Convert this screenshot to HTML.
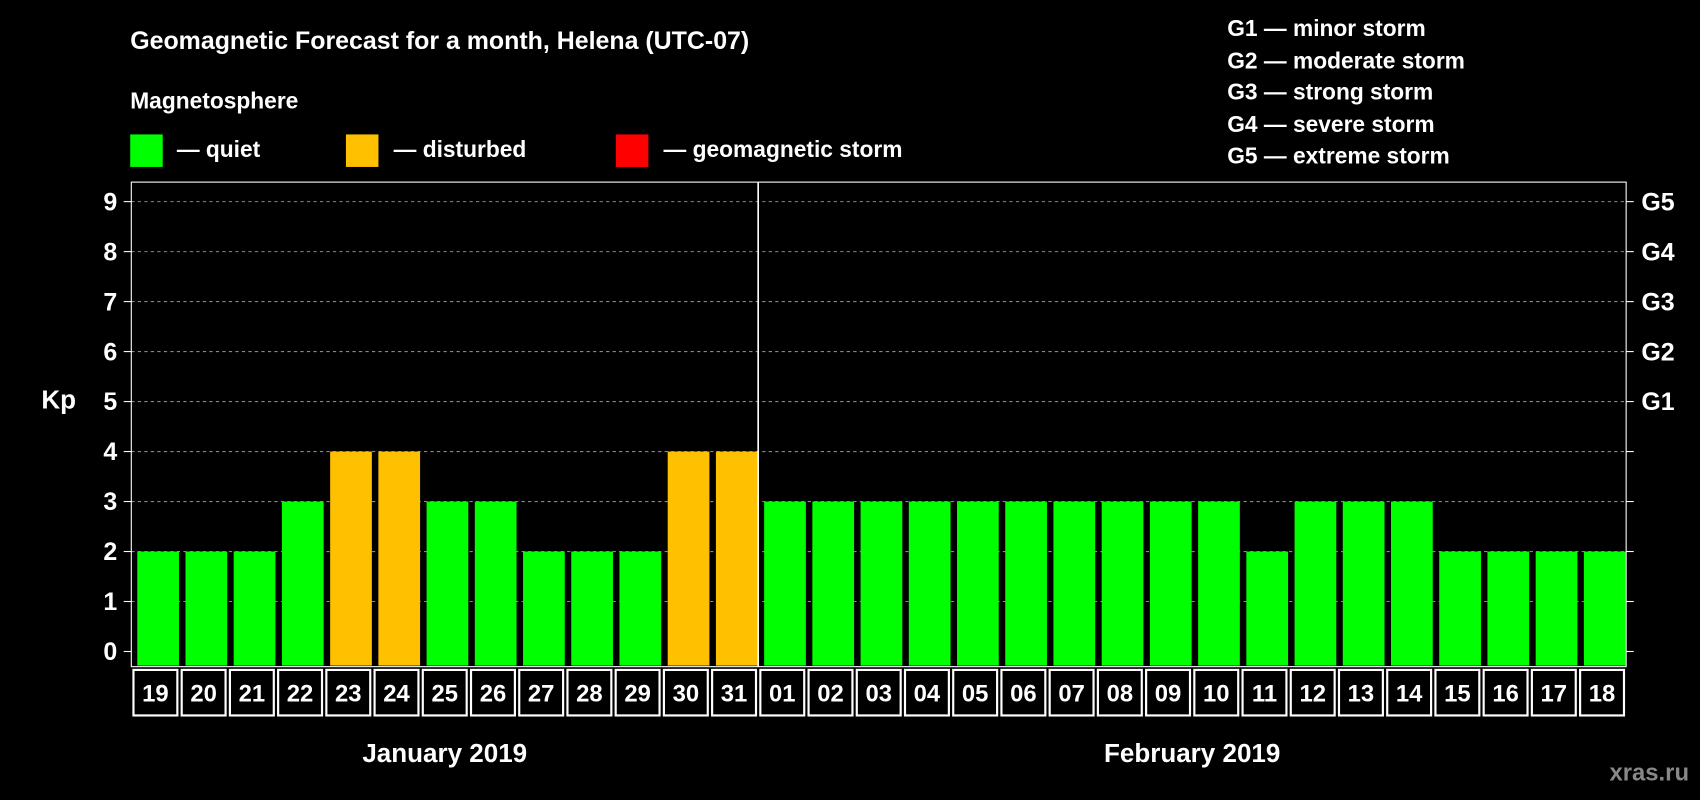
<!DOCTYPE html>
<html><head><meta charset="utf-8"><style>
html,body{margin:0;padding:0;background:#000;}
svg{display:block;font-family:"Liberation Sans",Arial,sans-serif;font-weight:bold;}
</style></head><body>
<svg id="chart" width="1700" height="800" viewBox="0 0 1568 738" xmlns="http://www.w3.org/2000/svg">
<rect x="0" y="0" width="1568" height="738" fill="#000"/>
<text x="120" y="45" fill="#fff" font-size="23">Geomagnetic Forecast for a month, Helena (UTC-07)</text>
<text x="120" y="100" fill="#fff" font-size="21">Magnetosphere</text>
<g><rect x="120" y="124" width="30" height="30" fill="#00ff00"/><text x="163" y="145" fill="#fff" font-size="21">— quiet</text></g>
<g><rect x="319" y="124" width="30" height="30" fill="#ffc000"/><text x="363" y="145" fill="#fff" font-size="21">— disturbed</text></g>
<g><rect x="568" y="124" width="30" height="30" fill="#ff0000"/><text x="612" y="145" fill="#fff" font-size="21">— geomagnetic storm</text></g>
<g fill="#fff" font-size="21">
<text x="1132" y="33">G1 — minor storm</text>
<text x="1132" y="63">G2 — moderate storm</text>
<text x="1132" y="92">G3 — strong storm</text>
<text x="1132" y="122">G4 — severe storm</text>
<text x="1132" y="151">G5 — extreme storm</text>
</g>
<text x="38" y="377" fill="#fff" font-size="24">Kp</text>
<text x="1558" y="720" fill="#888" font-size="22" text-anchor="end">xras.ru</text>
<g id="grid"></g><g id="bars"></g><g id="axes"></g>
</svg>
<script>
const days=["19","20","21","22","23","24","25","26","27","28","29","30","31","01","02","03","04","05","06","07","08","09","10","11","12","13","14","15","16","17","18"];
const kpValues=[2,2,2,3,4,4,3,3,2,2,2,4,4,3,3,3,3,3,3,3,3,3,3,2,3,3,3,2,2,2,2];
const yTicks=[0,1,2,3,4,5,6,7,8,9];
const gLabels=["","","","","","G1","G2","G3","G4","G5"];
const months=[{name:"January 2019",from:0,to:13},{name:"February 2019",from:13,to:31}];
const NS="http://www.w3.org/2000/svg";
const L=121,R=1500,T=168,B=615;
const slot=(R-L)/days.length;
const y=v=>601-v*(601-186)/9;
const x=i=>L+i*slot;
function mk(tag,attrs,parent,txt){const e=document.createElementNS(NS,tag);for(const k in attrs)e.setAttribute(k,attrs[k]);if(txt!==undefined)e.textContent=txt;parent.appendChild(e);return e;}
const grid=document.getElementById('grid'),bars=document.getElementById('bars'),axes=document.getElementById('axes');
yTicks.forEach((t,i)=>{
  if(t>0){const gl=mk('line',{x1:L,x2:R,y1:y(t),y2:y(t),stroke:'#888','stroke-dasharray':'3,3','stroke-width':1},grid);
  }
  const tk=mk('line',{x1:L-7,x2:L,y1:y(t),y2:y(t),stroke:'#fff','stroke-width':1},axes);
  
  const tk2=mk('line',{x1:R,x2:R+7,y1:y(t),y2:y(t),stroke:'#fff','stroke-width':1},axes);
  
  const lb=mk('text',{x:L-13,y:y(t)+8,fill:'#fff','font-size':23,'text-anchor':'end'},axes,String(t));
  
  if(gLabels[i]){const g=mk('text',{x:R+14,y:y(t)+8,fill:'#fff','font-size':23},axes,gLabels[i]);
  }
});
kpValues.forEach((v,i)=>{
  const col=v>=5?'#ff0000':(v>=4?'#ffc000':'#00ff00');
  const b=mk('rect',{x:x(i)+5.5,y:y(v),width:slot-6,height:y(0)+15-y(v)-2,fill:col},bars);
  
  const c=mk('rect',{x:x(i)+2,y:B+3,width:slot-4,height:42,fill:'none',stroke:'#fff','stroke-width':2},axes);
  
  const d=mk('text',{x:x(i)+slot/2,y:B+32,fill:'#fff','font-size':22,'text-anchor':'middle'},axes,days[i]);
  
});
const fr=mk('rect',{x:L,y:T,width:R-L,height:B-T,fill:'none',stroke:'#fff','stroke-width':1},axes);

const dv=mk('line',{x1:x(13),x2:x(13),y1:T,y2:B,stroke:'#fff','stroke-width':1.5},axes);

months.forEach(m=>{
  const t=mk('text',{x:(x(m.from)+x(m.to))/2,y:703,fill:'#fff','font-size':24,'text-anchor':'middle'},axes,m.name);
  
});
</script>
</body></html>
